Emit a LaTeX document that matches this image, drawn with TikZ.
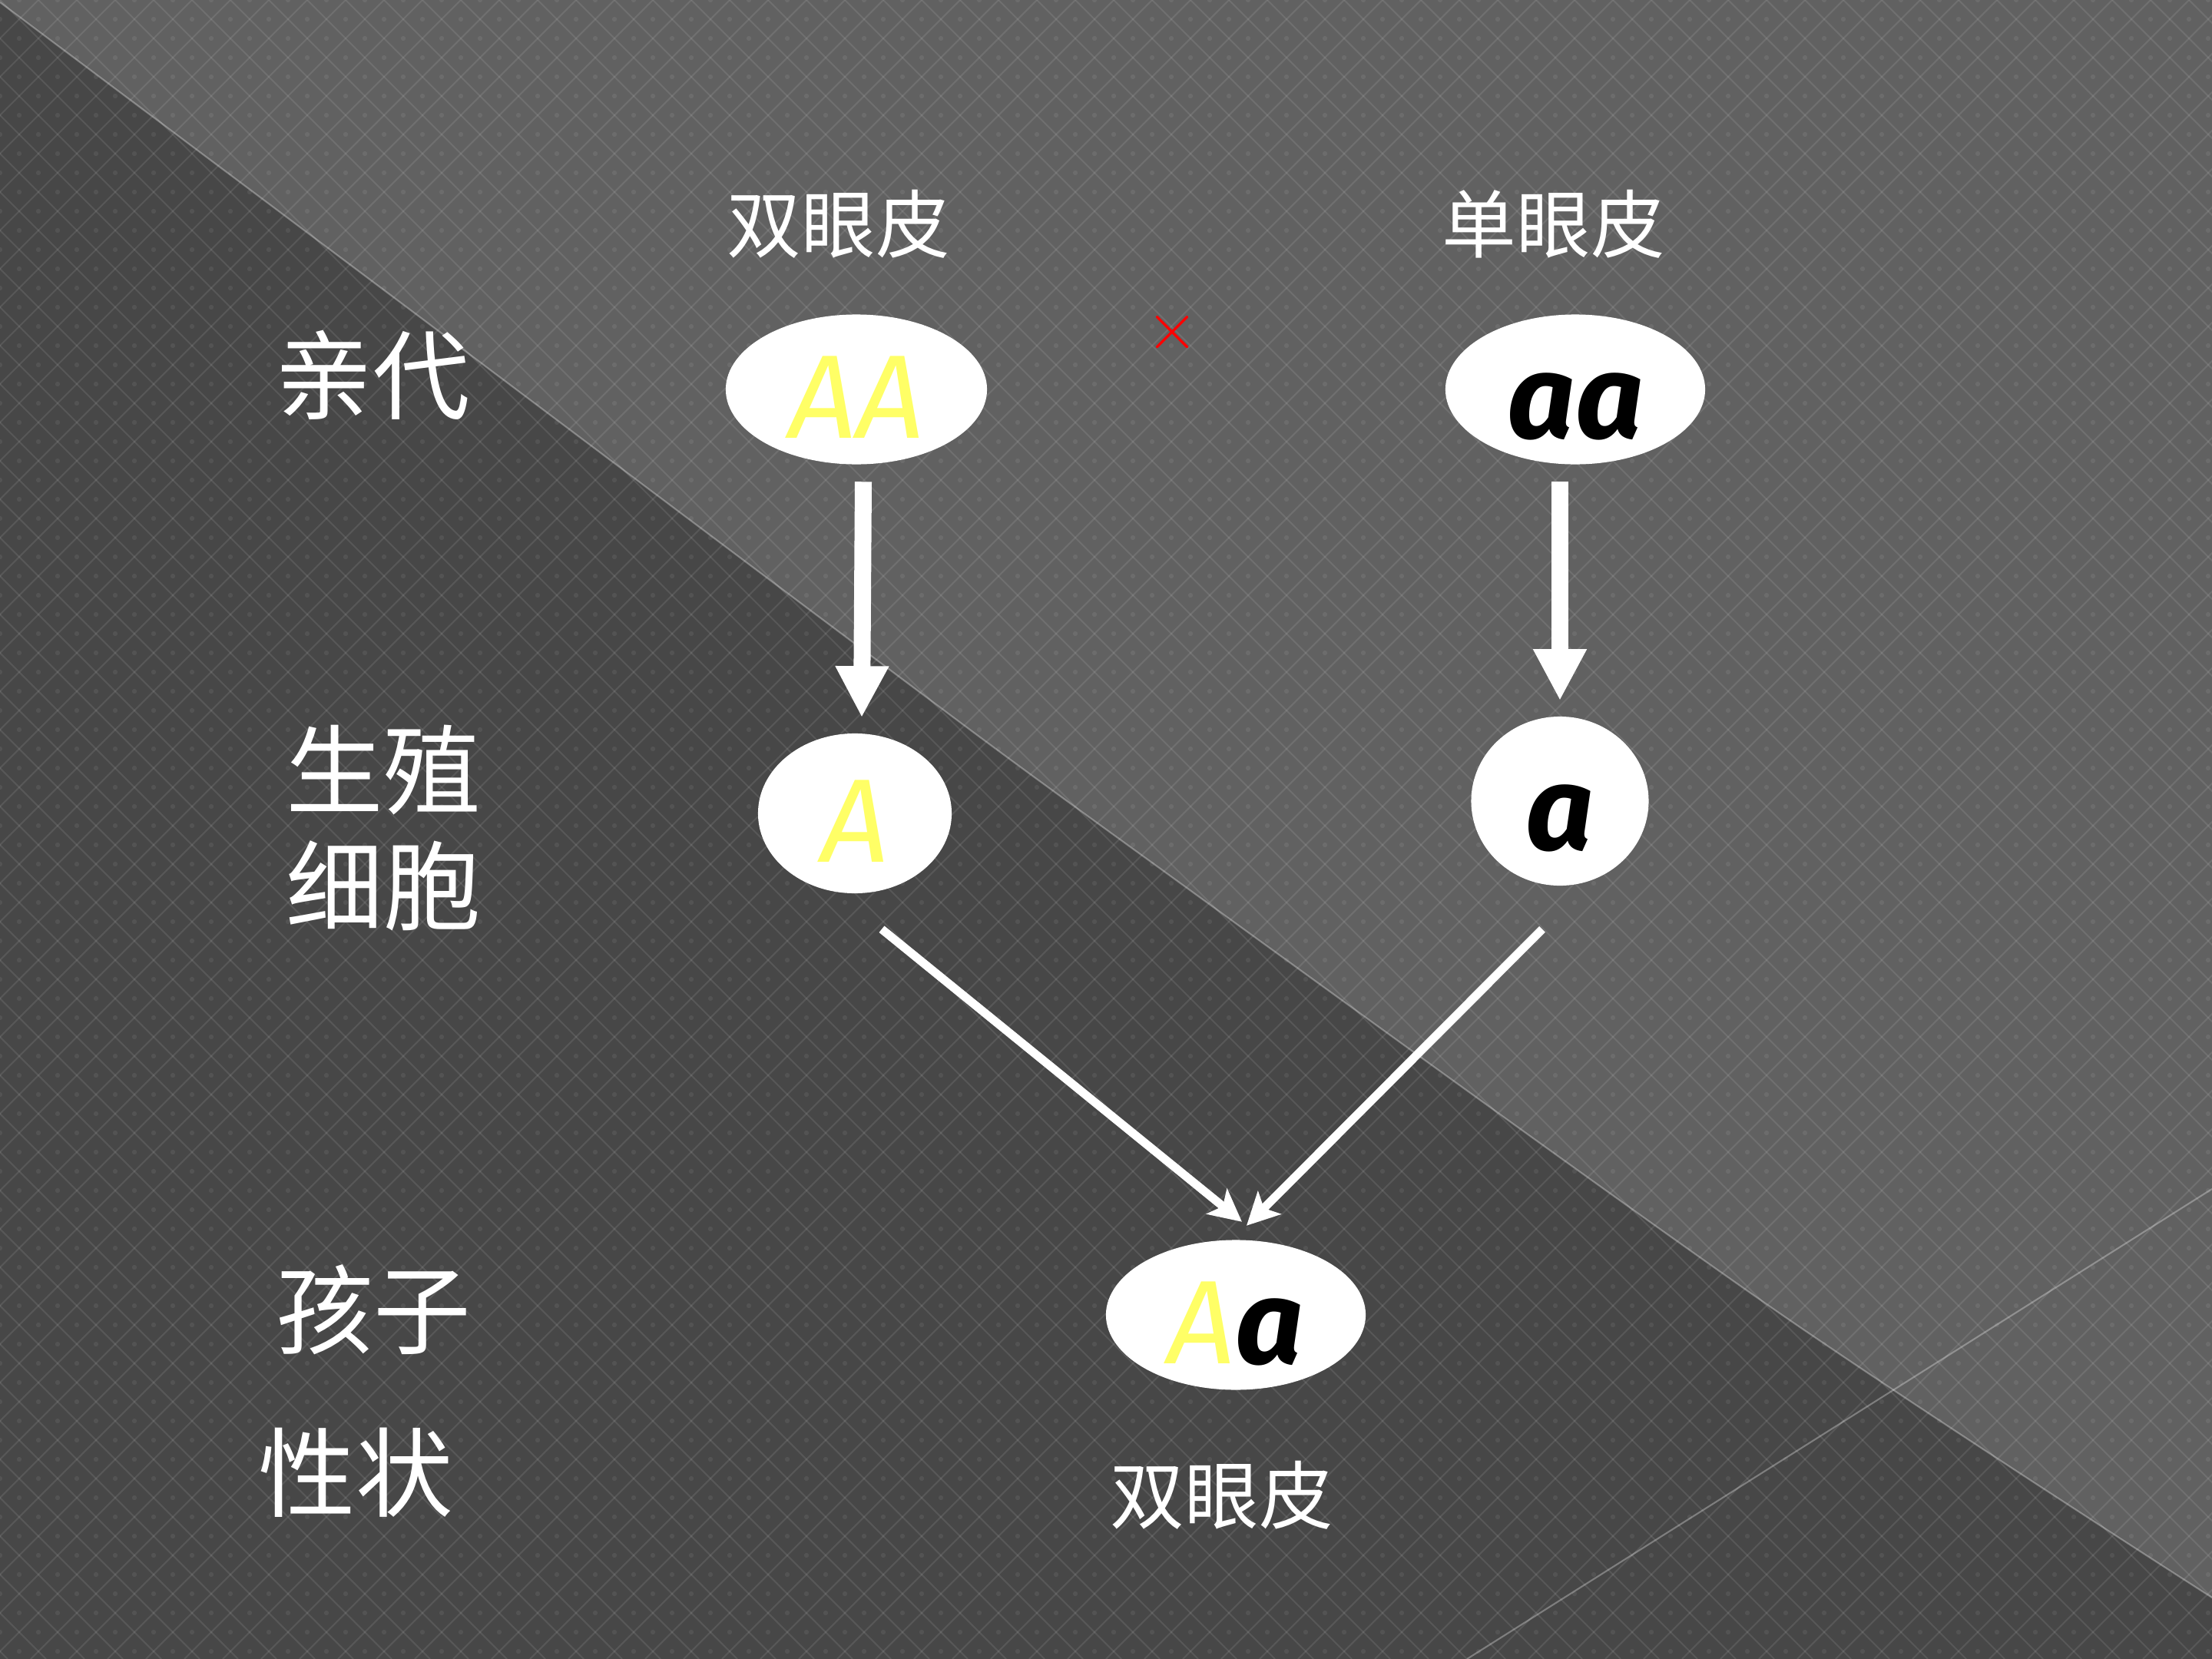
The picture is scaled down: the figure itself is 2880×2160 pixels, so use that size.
\documentclass[tikz,border=0pt]{standalone}
\usepackage{fontspec}
\newfontfamily\cjk{Noto Sans CJK SC}
\newfontfamily\genofont{Fira Sans}
\usepackage{tikz}
\usetikzlibrary{arrows.meta,positioning,calc,shapes.geometric}
\definecolor{bgdark}{RGB}{71,71,71}
\definecolor{bglight}{RGB}{97,97,97}
\definecolor{genoyellow}{RGB}{255,255,102}
\definecolor{crossred}{RGB}{255,0,0}
\tikzset{
  % faint diamond texture of the slide
  gridln/.style={line width=0.6pt, white, opacity=0.09},
  griddot/.style={white, opacity=0.07},
  edgeln/.style={line width=0.6pt, white, opacity=0.3},
  % white genotype ellipses
  geno/.style={ellipse, fill=white, draw=none, inner sep=0pt,
    text height=1.26cm, text depth=0pt,
    font=\genofont\itshape\fontsize{44}{48}\selectfont},
  % row and phenotype labels
  rowlab/.style={white, align=center, font=\cjk\fontsize{36}{42.7}\selectfont},
  phenolab/.style={white, font=\cjk\fontsize{27.5}{32}\selectfont},
  % arrows
  downarr/.style={-{Triangle[length=0.67cm,width=0.65cm]}, line width=0.22cm, white},
  diagarr/.style={-{Stealth[length=0.42cm,width=0.42cm,inset=0.1cm]}, line width=0.11cm, white},
}
\newcommand{\yel}[1]{\textcolor{genoyellow}{#1}}
\newcommand{\blk}[1]{{\bfseries\textcolor{black}{#1}}}

\begin{document}
\begin{tikzpicture}[x=0.01cm, y=-0.01cm]
    \useasboundingbox (0,0) rectangle (2880,2160);
    % background: dark lower left, lighter upper right
    \fill[bgdark] (0,0) rectangle (2880,2160);
    \fill[bglight] plot[smooth] coordinates
      {(0,3) (503,380) (1133,853) (1450,1087) (2300,1698) (2880,2080)}
      -- (2880,0) -- (0,0) -- cycle;
    \begin{scope}
      \clip (0,0) rectangle (2880,2160);
      \foreach \k in {-44,...,58} \draw[gridln] ({\k*50},0) -- ++(2160,2160);
      \foreach \k in {0,...,101} \draw[gridln] ({\k*50},0) -- ++(-2160,2160);
      \foreach \r in {0,...,86} {
        \pgfmathsetmacro\off{25*(1-mod(\r,2))}
        \fill[griddot] \foreach \c in {0,...,57} {({\c*50+\off},{\r*25}) circle[radius=0.9pt]};
      }
    \end{scope}
    \draw[edgeln] plot[smooth] coordinates
      {(0,3) (503,380) (1133,853) (1450,1087) (2300,1698) (2880,2080)};
    \draw[edgeln] (1910,2160) -- (2880,1548);

    % row labels
    \node[rowlab] (parent) at (485,489) {亲代};
    \node[rowlab] (gamete) at (499,1078) {生殖\\细胞};
    \node[rowlab] (child) at (486,1705) {孩子};
    \node[rowlab] (trait) at (463,1917) {性状};

    % phenotypes
    \node[phenolab] (dbl) at (1092,292) {双眼皮};
    \node[phenolab] (sgl) at (2023,292) {单眼皮};
    \node[phenolab] (dblchild) at (1591,1947) {双眼皮};
    \node[crossred, font=\fontsize{24}{26}\selectfont] (cross) at (1527,433) {$\times$};

    % genotypes
    \node[geno, minimum width=3.4cm, minimum height=1.95cm] (AA) at (1115,507) {\yel{AA}};
    \node[geno, minimum width=3.38cm, minimum height=1.95cm] (aa) at (2051,507) {\blk{aa}};
    \node[geno, minimum width=2.52cm, minimum height=2.08cm] (A) at (1113,1059) {\yel{A}};
    \node[geno, minimum width=2.31cm, minimum height=2.2cm] (a) at (2031,1043) {\blk{a}};
    \node[geno, minimum width=3.38cm, minimum height=1.95cm] (Aa) at (1609,1712) {\yel{A}\blk{a}};

    % meiosis and fertilisation
    \draw[downarr] ($(AA.south)+(9,22)$) -- ($(A.north)+(9,-20)$);
    \draw[downarr] ($(aa.south -| a.north)+(0,22)$) -- ($(a.north)+(0,-20)$);
    \draw[diagarr] ($(A.south)+(35,46)$) -- ($(Aa.north)+(8,-23)$);
    \draw[diagarr] ($(a.south)+(-23,56)$) -- ($(Aa.north)+(14,-18)$);
\end{tikzpicture}
\end{document}
